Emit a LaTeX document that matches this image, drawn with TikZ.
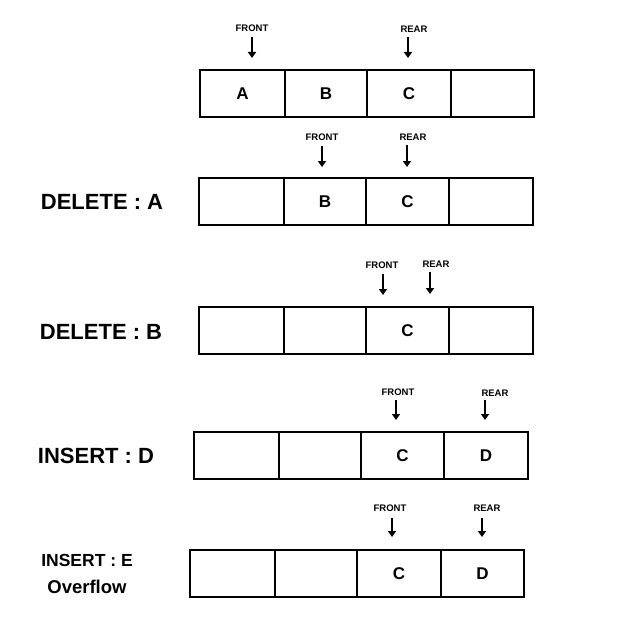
\documentclass[tikz,border=0pt]{standalone}
\usepackage{fontspec}
\setmainfont{Liberation Sans}
\usetikzlibrary{arrows.meta}
\begin{document}
\begin{tikzpicture}[x=1pt,y=-1pt,
  cell/.style={draw=black,line width=1.8pt,minimum height=47pt,inner sep=0pt,font=\fontsize{17}{20}\selectfont\bfseries},
  ptrlbl/.style={inner sep=0pt,font=\fontsize{9.5}{11}\selectfont\bfseries},
  rowlbl/.style={inner sep=0pt,font=\fontsize{22}{26}\selectfont\bfseries},
  smlbl/.style={inner sep=0pt,align=center,font=\fontsize{17.5}{27}\selectfont\bfseries},
  ptr/.style={line width=1.8pt,-{Triangle[width=8pt,length=6pt]}}]
\useasboundingbox (0,0) rectangle (636,626);
% Row 1
\node[cell,minimum width=85pt] (r1a) at (242.5,93.5) {A};
\node[cell,minimum width=82pt] (r1b) at (326,93.5) {B};
\node[cell,minimum width=84pt] (r1c) at (409,93.5) {C};
\node[cell,minimum width=83pt] (r1d) at (492.5,93.5) {};
\node[ptrlbl] (f1) at (252,28) {FRONT};
\node[ptrlbl] (e1) at (414,29) {REAR};
\coordinate (f1t) at (252,37); \coordinate (f1b) at (252,58);
\coordinate (e1t) at (408,37); \coordinate (e1b) at (408,58);
\draw[ptr] (f1t) -- (f1b);
\draw[ptr] (e1t) -- (e1b);
% Row 2
\node[rowlbl] (l2) at (102,201.5) {DELETE : A};
\node[cell,minimum width=85pt] (r2a) at (241.5,201.5) {};
\node[cell,minimum width=82pt] (r2b) at (325,201.5) {B};
\node[cell,minimum width=83pt] (r2c) at (407.5,201.5) {C};
\node[cell,minimum width=84pt] (r2d) at (491,201.5) {};
\node[ptrlbl] (f2) at (322,137) {FRONT};
\node[ptrlbl] (e2) at (413,137) {REAR};
\coordinate (f2t) at (322,146); \coordinate (f2b) at (322,167);
\coordinate (e2t) at (407,145); \coordinate (e2b) at (407,167);
\draw[ptr] (f2t) -- (f2b);
\draw[ptr] (e2t) -- (e2b);
% Row 3
\node[rowlbl] (l3) at (101,332) {DELETE : B};
\node[cell,minimum width=85pt] (r3a) at (241.5,330.5) {};
\node[cell,minimum width=82pt] (r3b) at (325,330.5) {};
\node[cell,minimum width=83pt] (r3c) at (407.5,330.5) {C};
\node[cell,minimum width=84pt] (r3d) at (491,330.5) {};
\node[ptrlbl] (f3) at (382,265) {FRONT};
\node[ptrlbl] (e3) at (436,264) {REAR};
\coordinate (f3t) at (383,274); \coordinate (f3b) at (383,295);
\coordinate (e3t) at (430,272); \coordinate (e3b) at (430,294);
\draw[ptr] (f3t) -- (f3b);
\draw[ptr] (e3t) -- (e3b);
% Row 4
\node[rowlbl] (l4) at (96,456) {INSERT : D};
\node[cell,minimum width=85pt] (r4a) at (236.5,455.5) {};
\node[cell,minimum width=82pt] (r4b) at (320,455.5) {};
\node[cell,minimum width=83pt] (r4c) at (402.5,455.5) {C};
\node[cell,minimum width=84pt] (r4d) at (486,455.5) {D};
\node[ptrlbl] (f4) at (398,392) {FRONT};
\node[ptrlbl] (e4) at (495,393) {REAR};
\coordinate (f4t) at (396,400); \coordinate (f4b) at (396,420);
\coordinate (e4t) at (485,400); \coordinate (e4b) at (485,420);
\draw[ptr] (f4t) -- (f4b);
\draw[ptr] (e4t) -- (e4b);
% Row 5
\node[smlbl] (l5) at (87,573.5) {INSERT : E\\\fontsize{18.5}{27}\selectfont Overflow};
\node[cell,minimum width=85pt] (r5a) at (232.5,573.5) {};
\node[cell,minimum width=82pt] (r5b) at (316,573.5) {};
\node[cell,minimum width=84pt] (r5c) at (399,573.5) {C};
\node[cell,minimum width=83pt] (r5d) at (482.5,573.5) {D};
\node[ptrlbl] (f5) at (390,508) {FRONT};
\node[ptrlbl] (e5) at (487,508) {REAR};
\coordinate (f5t) at (392,518); \coordinate (f5b) at (392,537);
\coordinate (e5t) at (482,518); \coordinate (e5b) at (482,537);
\draw[ptr] (f5t) -- (f5b);
\draw[ptr] (e5t) -- (e5b);
\end{tikzpicture}
\end{document}
